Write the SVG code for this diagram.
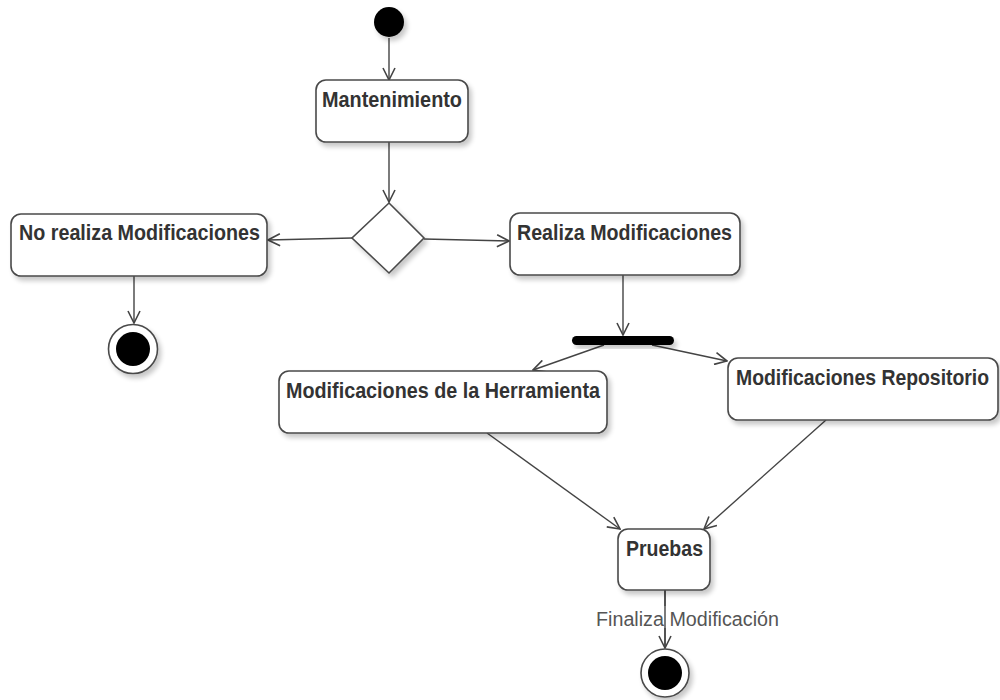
<svg xmlns="http://www.w3.org/2000/svg" width="1000" height="700" viewBox="0 0 1000 700">
  <defs>
    <filter id="shadow" x="-20%" y="-20%" width="150%" height="160%">
      <feGaussianBlur in="SourceAlpha" stdDeviation="2.5"/>
      <feOffset dx="3" dy="4" result="b"/>
      <feComponentTransfer><feFuncA type="linear" slope="0.22"/></feComponentTransfer>
      <feMerge><feMergeNode/><feMergeNode in="SourceGraphic"/></feMerge>
    </filter>
    <marker id="open" viewBox="0 0 14 14" refX="13" refY="7" markerWidth="14" markerHeight="14" markerUnits="userSpaceOnUse" orient="auto">
      <path d="M1,1 L13,7 L1,13" fill="none" stroke="#444" stroke-width="1.6"/>
    </marker>
  </defs>
  <style>
    .box { fill: #fff; stroke: #4a4a4a; stroke-width: 1.6; filter: url(#shadow); }
    .lbl { font-family: "Liberation Sans", Arial, sans-serif; font-weight: bold; font-size: 21.5px; fill: #333; }
    .edge { fill: none; stroke: #444; stroke-width: 1.4; marker-end: url(#open); }
    .elbl { font-family: "Liberation Sans", Arial, sans-serif; font-size: 20px; fill: #555; }
  </style>

  <rect width="1000" height="700" fill="#fff"/>

  <g id="edges">
    <path class="edge" d="M389,38 L389,80"/>
    <path class="edge" d="M389,142 L389,202"/>
    <path class="edge" d="M352,238 L268,240"/>
    <path class="edge" d="M424,239 L509,241"/>
    <path class="edge" d="M134,276 L134,323"/>
    <path class="edge" d="M623,275 L623,335"/>
    <path class="edge" d="M604,345 L533,370"/>
    <path class="edge" d="M652,345 L727,361"/>
    <path class="edge" d="M487,433 L620,529"/>
    <path class="edge" d="M826,420 L704,529"/>
    <path class="edge" d="M665,590 L665,648"/>
    <rect x="594" y="606" width="186" height="22" fill="#fff"/>
    <line x1="665" y1="590" x2="665" y2="648" stroke="#444" stroke-width="1.4"/>
    <text class="elbl" x="596" y="626" textLength="183" lengthAdjust="spacingAndGlyphs">Finaliza Modificación</text>
  </g>

  <g id="start">
    <circle cx="389" cy="22" r="15" fill="#000" filter="url(#shadow)"/>
  </g>

  <g id="mantenimiento">
    <rect class="box" x="316" y="80" width="152" height="62" rx="10"/>
    <text class="lbl" x="322" y="107" textLength="140" lengthAdjust="spacingAndGlyphs">Mantenimiento</text>
  </g>

  <g id="decision">
    <polygon class="box" points="389,203 424,238 389,273 352,238"/>
  </g>

  <g id="no-realiza">
    <rect class="box" x="11" y="214" width="256" height="62" rx="10"/>
    <text class="lbl" x="19" y="240" textLength="241" lengthAdjust="spacingAndGlyphs">No realiza Modificaciones</text>
  </g>

  <g id="end-left">
    <circle cx="133" cy="349" r="24.5" fill="#fff" stroke="#4a4a4a" stroke-width="1.6" filter="url(#shadow)"/>
    <circle cx="133" cy="349" r="17" fill="#000"/>
  </g>

  <g id="realiza">
    <rect class="box" x="510" y="213" width="230" height="62" rx="10"/>
    <text class="lbl" x="517" y="240" textLength="215" lengthAdjust="spacingAndGlyphs">Realiza Modificaciones</text>
  </g>

  <g id="fork">
    <rect x="572" y="336" width="102" height="9" rx="4.5" fill="#000" filter="url(#shadow)"/>
  </g>

  <g id="mod-herramienta">
    <rect class="box" x="279" y="371" width="328" height="62" rx="10"/>
    <text class="lbl" x="286" y="398" textLength="314" lengthAdjust="spacingAndGlyphs">Modificaciones de la Herramienta</text>
  </g>

  <g id="mod-repositorio">
    <rect class="box" x="728" y="358" width="270" height="62" rx="10"/>
    <!-- narrower face, stretched vertically to the height of the other labels -->
    <text class="lbl" transform="translate(736,385) scale(1,1.1)" x="0" y="0" style="font-size:19.4px">Modificaciones Repositorio</text>
  </g>

  <g id="pruebas">
    <rect class="box" x="618" y="529" width="92" height="61" rx="10"/>
    <text class="lbl" x="626" y="556" textLength="77" lengthAdjust="spacingAndGlyphs">Pruebas</text>
  </g>

  <g id="end-bottom">
    <circle cx="665" cy="673" r="24" fill="#fff" stroke="#4a4a4a" stroke-width="1.6" filter="url(#shadow)"/>
    <circle cx="665" cy="673" r="17" fill="#000"/>
  </g>
</svg>
